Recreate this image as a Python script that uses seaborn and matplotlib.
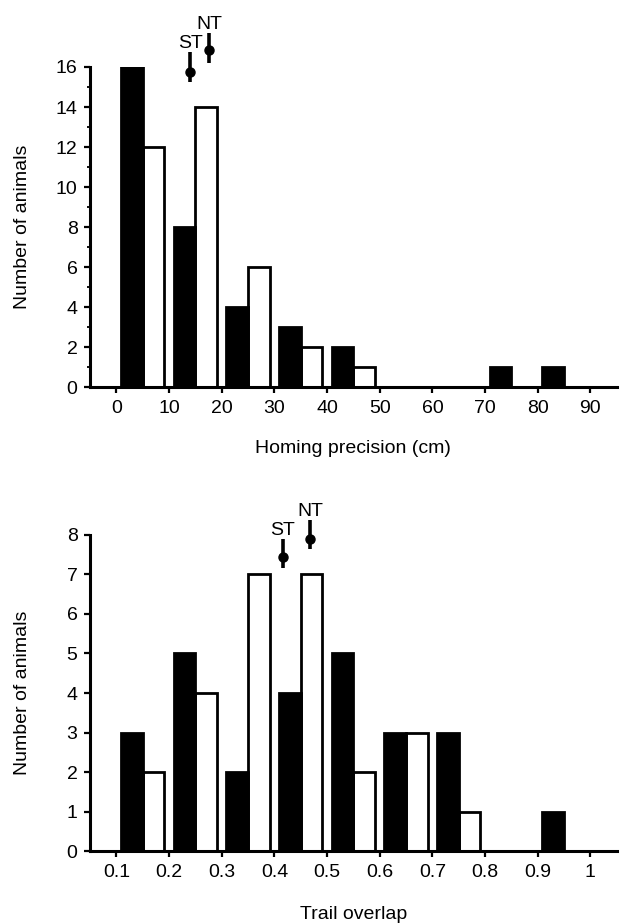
import numpy as np
import pandas as pd
import matplotlib
matplotlib.use("Agg")
import matplotlib.pyplot as plt
from matplotlib.ticker import MultipleLocator, FormatStrFormatter
import seaborn as sns

# --- data ---
groups = ["ST", "NT"]  # ST = black bars, NT = white bars

homing_edges = [0, 10, 20, 30, 40, 50, 60, 70, 80, 90]
homing_st = [16, 8, 4, 3, 2, 0, 0, 1, 1]
homing_nt = [12, 14, 6, 2, 1, 0, 0, 0, 0]
homing_mean = [14.0, 17.6]       # x of the ST / NT markers
homing_dot = [15.75, 16.85]      # marker heights
homing_lo = [15.25, 16.2]
homing_hi = [16.75, 17.7]

overlap_edges = [0.1, 0.2, 0.3, 0.4, 0.5, 0.6, 0.7, 0.8, 0.9, 1.0]
overlap_st = [3, 5, 2, 4, 5, 3, 3, 0, 1]
overlap_nt = [2, 4, 7, 7, 2, 3, 1, 0, 0]
overlap_mean = [0.416, 0.468]
overlap_dot = [7.44, 7.9]
overlap_lo = [7.16, 7.65]
overlap_hi = [7.9, 8.38]

sns.set_style("ticks")
plt.rcParams["font.family"] = ["Liberation Sans", "DejaVu Sans"]
plt.rcParams["font.size"] = 14
for k in ("text.color", "axes.labelcolor", "xtick.color", "ytick.color",
          "axes.edgecolor"):
    plt.rcParams[k] = "black"

FS = 14


def to_frame(edges, st, nt):
    rows = []
    for i in range(len(edges) - 1):
        mid = (edges[i] + edges[i + 1]) / 2
        rows.append({"value": mid, "group": "ST", "count": st[i]})
        rows.append({"value": mid, "group": "NT", "count": nt[i]})
    return pd.DataFrame(rows)


def draw_panel(ax, edges, st, nt, means, dots, lo, hi):
    df = to_frame(edges, st, nt)
    sns.histplot(data=df, x="value", weights="count", hue="group",
                 hue_order=groups, palette={"ST": "black", "NT": "white"},
                 bins=edges, multiple="dodge", shrink=0.82, alpha=1,
                 edgecolor="black", linewidth=2.0, legend=False, ax=ax)
    for name, x, d, l, h in zip(groups, means, dots, lo, hi):
        ax.plot([x, x], [l, h], color="black", lw=2.6, clip_on=False,
                solid_capstyle="butt")
        ax.plot(x, d, "o", color="black", ms=6.5, clip_on=False)
        ax.annotate(name, (x, h), xytext=(0, 0), textcoords="offset points",
                    ha="center", va="bottom", fontsize=FS, annotation_clip=False)
    sns.despine(ax=ax)
    for s in ("left", "bottom"):
        ax.spines[s].set_linewidth(2.2)
    ax.tick_params(direction="out", length=4, width=1.6, pad=5, labelsize=FS)
    ax.tick_params(which="minor", length=2.5, width=1.3)
    ax.set_ylabel("Number of animals", fontsize=FS)
    ax.yaxis.set_label_coords(-0.112, 0.5)


fig = plt.figure(figsize=(6.23, 9.24), dpi=100)
ax1 = fig.add_axes([0.1445, 0.581, 0.8455, 0.3465])
ax2 = fig.add_axes([0.1445, 0.079, 0.8455, 0.342])

draw_panel(ax1, homing_edges, homing_st, homing_nt,
           homing_mean, homing_dot, homing_lo, homing_hi)
ax1.set_xlim(-5, 95)
ax1.set_ylim(0, 16)
ax1.xaxis.set_major_locator(MultipleLocator(10))
ax1.yaxis.set_major_locator(MultipleLocator(2))
ax1.yaxis.set_minor_locator(MultipleLocator(1))
ax1.set_xlabel("Homing precision (cm)", fontsize=FS, labelpad=17)

draw_panel(ax2, overlap_edges, overlap_st, overlap_nt,
           overlap_mean, overlap_dot, overlap_lo, overlap_hi)
ax2.set_xlim(0.05, 1.05)
ax2.set_ylim(0, 8)
ax2.set_xticks(overlap_edges)
ax2.xaxis.set_major_formatter(FormatStrFormatter("%g"))
ax2.yaxis.set_major_locator(MultipleLocator(1))
ax2.set_xlabel("Trail overlap", fontsize=FS, labelpad=18)

fig.savefig("out.png", dpi=100)
